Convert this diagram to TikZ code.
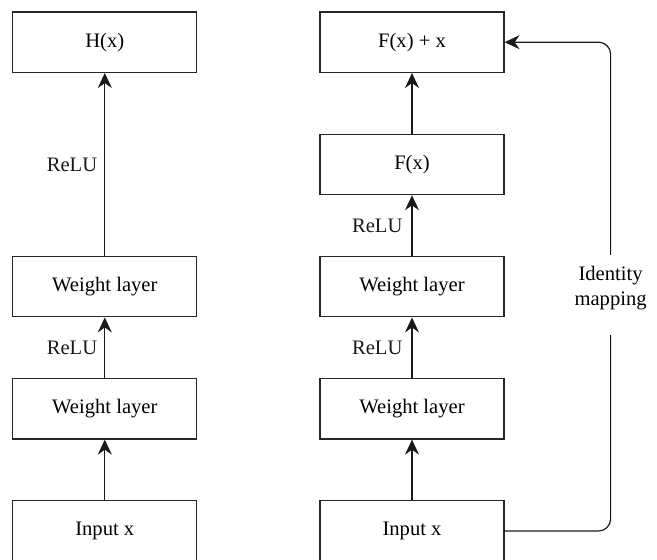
\documentclass[tikz,border=0pt]{standalone}
\usepackage{fontspec}
\setmainfont{Liberation Serif}
\usepackage{tikz}
\usetikzlibrary{positioning, arrows.meta}

\begin{document}
\begin{tikzpicture}[
        x=0.5pt, y=-0.5pt,
        node distance=30.25pt and 61pt,
        font=\fontsize{10.3}{12.5}\selectfont,
        box/.style={rectangle, draw=black!85, line width=0.6pt, minimum width=92pt, minimum height=30.25pt, align=center},
        arrow/.style={-{Stealth[length=7.5pt, width=7pt, inset=2.5pt]}, line width=0.6pt, black!90}
        ]
        \useasboundingbox (0,0) rectangle (657,560);

        % residual block
        \node[box] (inR) at (412,531) {Input x};
        \node[box, above=of inR] (wR1) {Weight layer};
        \node[box, above=of wR1] (wR2) {Weight layer};
        \node[box, above=of wR2] (fx) {F(x)};
        \node[box, above=of fx] (fxx) {F(x) + x};

        % plain block
        \node[box, left=of inR] (inL) {Input x};
        \node[box, left=of wR1] (wL1) {Weight layer};
        \node[box, left=of wR2] (wL2) {Weight layer};
        \node[box, left=of fxx] (hx) {H(x)};

        \draw[arrow] (inL) -- (wL1);
        \draw[arrow] (wL1) -- node[left, inner sep=3.5pt] {ReLU} (wL2);
        \draw[arrow] (wL2) -- node[left, inner sep=3.5pt] {ReLU} (hx);

        \draw[arrow] (inR) -- (wR1);
        \draw[arrow] (wR1) -- node[left, inner sep=4.5pt] {ReLU} (wR2);
        \draw[arrow] (wR2) -- node[left, inner sep=4.5pt] {ReLU} (fx);
        \draw[arrow] (fx) -- (fxx);

        % shortcut
        \coordinate[right=53pt of inR.east] (skip);
        \draw[arrow, rounded corners=6pt] (inR.east) -- (skip) |- (fxx.east);
        \node[fill=white, align=center, anchor=north, inner xsep=1pt, inner ysep=5.5pt] (idmap)
            at ([yshift=0.5pt]skip |- wR2.north) {Identity\\mapping\rule[-9.5pt]{0pt}{0pt}};
\end{tikzpicture}
\end{document}
